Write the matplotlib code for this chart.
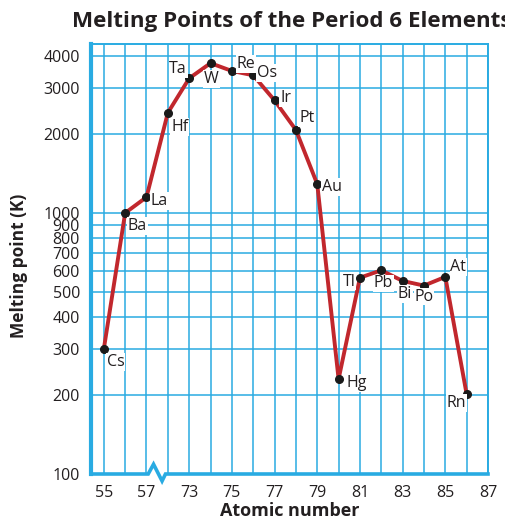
import numpy as np
import matplotlib
matplotlib.use('Agg')
import matplotlib.pyplot as plt

plt.rcParams['font.family'] = ['Open Sans', 'DejaVu Sans']

# data
atomic_numbers = [55, 56, 57, 72, 73, 74, 75, 76, 77, 78, 79, 80, 81, 82, 83, 84, 85, 86]
symbols = ['Cs', 'Ba', 'La', 'Hf', 'Ta', 'W', 'Re', 'Os', 'Ir', 'Pt',
           'Au', 'Hg', 'Tl', 'Pb', 'Bi', 'Po', 'At', 'Rn']
melting_k = [301, 1000, 1150, 2420, 3280, 3750, 3500, 3370, 2700, 2080,
             1290, 231, 565, 603, 549, 527, 569, 202]
x_tick_labels = [55, 57, 73, 75, 77, 79, 81, 83, 85, 87]
y_ticks = [100, 200, 300, 400, 500, 600, 700, 800, 900, 1000, 2000, 3000, 4000]

# label offsets in pixels (dx, dy) from each point
label_offsets = [(12, -13), (12, -13), (13, -4), (12, -14), (-11, 9), (1, -16),
                 (14, 7), (14, 2), (11, 2), (11, 12), (15, -3), (18, -4),
                 (-11, -4), (2, -13), (2, -13), (0, -11), (13, 10), (-10, -9)]

def pos(z):
    # axis is broken between 57 and 72
    return z - 55 if z <= 57 else z - 72 + 3

xs = np.array([pos(z) for z in atomic_numbers])
blue = '#29abe2'
red = '#c1272d'

fig = plt.figure(figsize=(5.05, 5.21), dpi=100)
ax = fig.add_axes([91/505, 47/521, (488-91)/505, (474-44)/521])
ax.set_yscale('log')
ax.set_xlim(-0.6, 18)
ax.set_ylim(100, 4440)

# grid
for i in range(0, 19):
    ax.axvline(i, color=blue, lw=1.1, zorder=1)
for v in y_ticks[1:]:
    ax.axhline(v, color=blue, lw=1.1, zorder=1)

ax.plot(xs, melting_k, color=red, lw=2.8, zorder=3, solid_joinstyle='round')
ax.plot(xs, melting_k, 'o', color='#1a1a1a', ms=5.5, zorder=4)

for x, y, s, (dx, dy) in zip(xs, melting_k, symbols, label_offsets):
    ax.annotate(s, (x, y), xytext=(dx, dy), textcoords='offset pixels',
                ha='center', va='center', fontsize=11.5, color='#231f20', zorder=5,
                bbox=dict(boxstyle='square,pad=0.05', fc='white', ec='none'))

# spines
for side in ['top', 'right']:
    ax.spines[side].set_color(blue)
    ax.spines[side].set_linewidth(1.4)
ax.spines['left'].set_color(blue)
ax.spines['left'].set_linewidth(3)
ax.spines['bottom'].set_visible(False)

# bottom axis line with break symbol
bx = [-0.6, 2.08, 2.33, 2.73, 2.89, 18]
by = [100, 100, 109, 94, 100, 100]
ax.plot(bx, by, color=blue, lw=2.6, clip_on=False, zorder=6, solid_joinstyle='miter')

ax.set_xticks(range(0, 19, 2))
ax.set_xticklabels([str(t) for t in x_tick_labels])
ax.set_yticks(y_ticks)
ax.set_yticklabels([str(t) for t in y_ticks])
ax.minorticks_off()
ax.tick_params(length=0, labelsize=11.5, colors='#231f20', pad=8)

ax.set_xlabel('Atomic number', fontsize=13, fontweight='bold', color='#231f20', labelpad=1)
ax.set_ylabel('Melting point (K)', fontsize=12.5, fontweight='bold', color='#231f20')
ax.yaxis.set_label_coords(-0.159, 0.485)
fig.text(72/505, 1 - 22/521, 'Melting Points of the Period 6 Elements', fontsize=16.1,
         fontweight='bold', color='#231f20', ha='left', va='center')

fig.savefig('out.png', dpi=100)
